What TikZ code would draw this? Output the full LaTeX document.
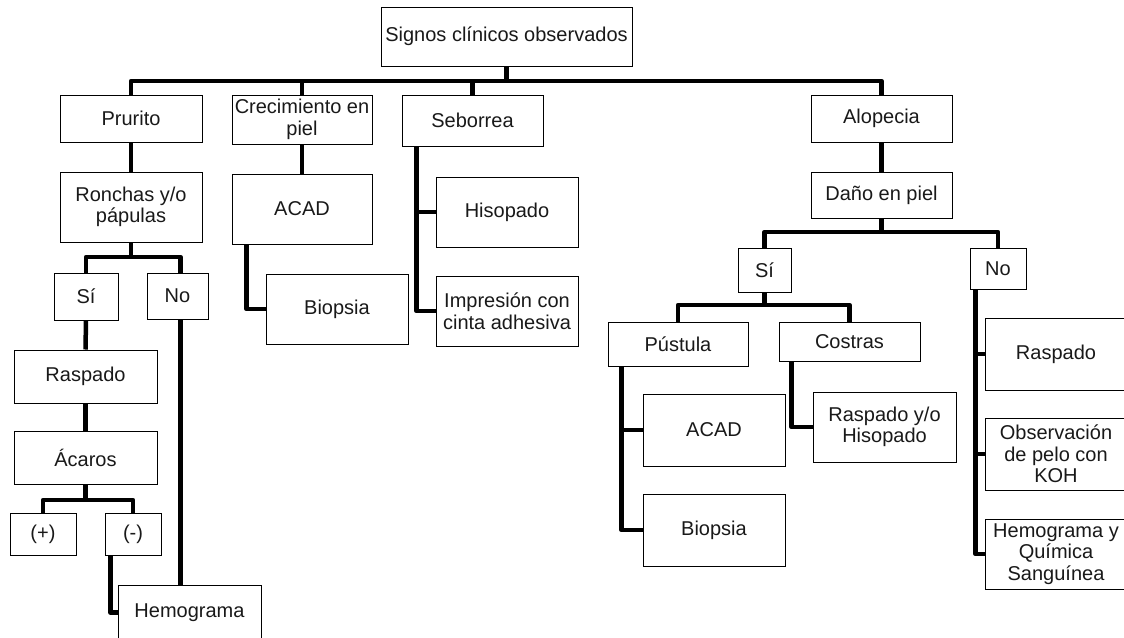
\documentclass[tikz,border=0pt]{standalone}
\usepackage{fontspec}
\setmainfont{Liberation Sans}
\usepackage{tikz}
\tikzstyle{caja} = [draw=black, line width=1pt, rectangle, inner sep=0pt, align=center, font=\fontsize{20}{21.5}\selectfont, text=black!90]
\tikzstyle{conector} = [draw=black, line width=4.5pt, line join=round]

\begin{document}
\begin{tikzpicture}[x=1pt,y=-1pt]
	\useasboundingbox (0,0) rectangle (1124,637);
	\node[caja, minimum width=251pt, minimum height=59pt](raiz) at (506.5,36.5) {Signos clínicos observados};
	\node[caja, minimum width=142pt, minimum height=47pt](prurito) at (131,118.5) {Prurito};
	\node[caja, minimum width=140pt, minimum height=49pt](crecim) at (302,119.5) {Crecimiento en\\piel};
	\node[caja, minimum width=141pt, minimum height=51pt](seborrea) at (472.5,120.5) {Seborrea};
	\node[caja, minimum width=141pt, minimum height=47pt](alopecia) at (881.5,118.5) {Alopecia};
	\node[caja, minimum width=142pt, minimum height=70pt](ronchas) at (131,207) {Ronchas y/o\\pápulas};
	\node[caja, minimum width=140pt, minimum height=70pt](acadA) at (302,209) {ACAD};
	\node[caja, minimum width=142pt, minimum height=70pt](hisopado) at (507,212) {Hisopado};
	\node[caja, minimum width=141pt, minimum height=46pt](dano) at (881.5,195) {Daño en piel};
	\node[caja, minimum width=64pt, minimum height=47pt](siA) at (86,296.5) {Sí};
	\node[caja, minimum width=61pt, minimum height=46pt](noA) at (177.5,296) {No};
	\node[caja, minimum width=142pt, minimum height=70pt](biopsiaA) at (337,309) {Biopsia};
	\node[caja, minimum width=142pt, minimum height=70pt](impresion) at (507,311) {Impresión con\\cinta adhesiva};
	\node[caja, minimum width=53pt, minimum height=44pt](siB) at (764.5,270) {Sí};
	\node[caja, minimum width=56pt, minimum height=41pt](noB) at (998,268.5) {No};
	\node[caja, minimum width=140pt, minimum height=44pt](pustula) at (678,344) {Pústula};
	\node[caja, minimum width=141pt, minimum height=39pt](costras) at (849.5,341.5) {Costras};
	\node[caja, minimum width=143pt, minimum height=53pt](raspadoA) at (85.5,376.5) {Raspado};
	\node[caja, minimum width=143pt, minimum height=53pt](acaros) at (85.5,457.5) {Ácaros};
	\node[caja, minimum width=66pt, minimum height=42pt](mas) at (43,534) {(+)};
	\node[caja, minimum width=56pt, minimum height=42pt](menos) at (133,534) {(-)};
	\node[caja, minimum width=143pt, minimum height=55pt](hemogramaA) at (189.5,612.5) {Hemograma};
	\node[caja, minimum width=142pt, minimum height=72pt](acadB) at (714,430) {ACAD};
	\node[caja, minimum width=142pt, minimum height=72pt](biopsiaB) at (714,530) {Biopsia};
	\node[caja, minimum width=143pt, minimum height=70pt](raspyhis) at (884.5,427) {Raspado y/o\\Hisopado};
	\node[caja, minimum width=142pt, minimum height=72pt](raspadoB) at (1056,354) {Raspado};
	\node[caja, minimum width=142pt, minimum height=72pt](observ) at (1056,454) {Observación\\de pelo con\\KOH};
	\node[caja, minimum width=142pt, minimum height=70pt](hemoquim) at (1056,554) {Hemograma y\\Química\\Sanguínea};

	\coordinate (b1) at (506.5,81);
	\coordinate (b2) at (131,257);
	\coordinate (b3) at (85.5,500);
	\coordinate (b4) at (881.5,232);
	\coordinate (b5) at (764.5,305);

	\draw[conector] (raiz.south) -- (b1);
	\draw[conector] (prurito.north) |- (b1) -| (alopecia.north);
	\draw[conector] (crecim.north) -- (crecim.north |- b1);
	\draw[conector] (seborrea.north) -- (seborrea.north |- b1);

	\draw[conector] (prurito.south) -- (ronchas.north);
	\draw[conector] (ronchas.south) -- (b2);
	\draw[conector] (siA.north) |- (b2) -| ([xshift=3pt]noA.north);
	\draw[conector] (siA.south) -- (raspadoA.north);
	\draw[conector] (raspadoA.south) -- (acaros.north);
	\draw[conector] (acaros.south) -- (b3);
	\draw[conector] (mas.north) |- (b3) -| (menos.north);
	\draw[conector] ([xshift=6pt]menos.south west) |- (hemogramaA.west);
	\draw[conector] ([xshift=3pt]noA.south) -- ([xshift=3pt]noA.south |- hemogramaA.north);

	\draw[conector] (crecim.south) -- (acadA.north);
	\draw[conector] ([xshift=15pt]acadA.south west) |- (biopsiaA.west);

	\coordinate (s1) at ([xshift=15pt]seborrea.south west);
	\draw[conector] (s1) |- (impresion.west);
	\draw[conector] (hisopado.west) -- (hisopado.west -| s1);

	\draw[conector] (alopecia.south) -- (dano.north);
	\draw[conector] (dano.south) -- (b4);
	\draw[conector] (siB.north) |- (b4) -| (noB.north);
	\draw[conector] (siB.south) -- (b5);
	\draw[conector] (pustula.north) |- (b5) -| (costras.north);

	\coordinate (s2) at ([xshift=14pt]pustula.south west);
	\draw[conector] (s2) |- (biopsiaB.west);
	\draw[conector] (acadB.west) -- (acadB.west -| s2);
	\draw[conector] ([xshift=13pt]costras.south west) |- (raspyhis.west);

	\coordinate (s3) at ([xshift=6pt]noB.south west);
	\draw[conector] (s3) |- (hemoquim.west);
	\draw[conector] (raspadoB.west) -- (raspadoB.west -| s3);
	\draw[conector] (observ.west) -- (observ.west -| s3);
\end{tikzpicture}
\end{document}
